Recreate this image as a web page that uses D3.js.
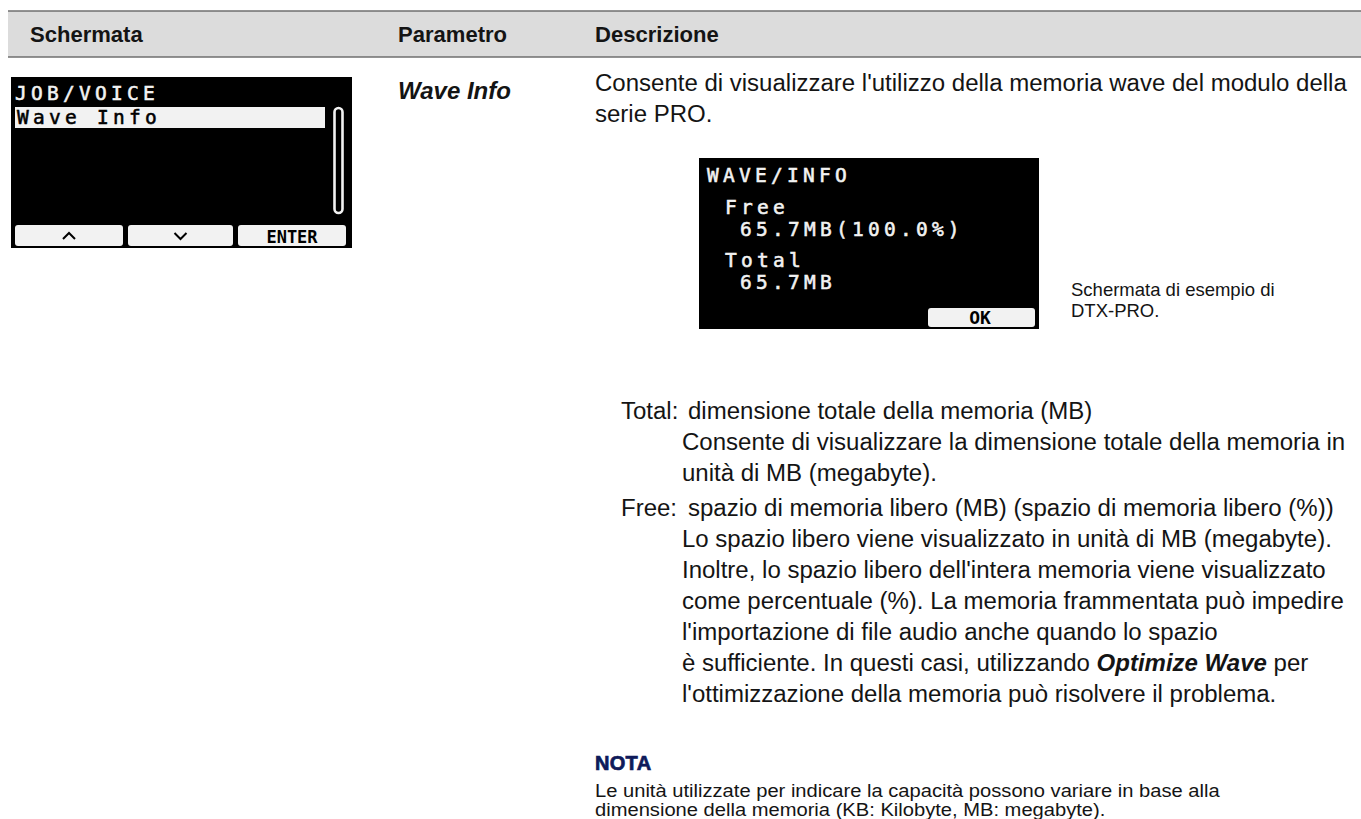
<!DOCTYPE html>
<html><head><meta charset="utf-8">
<script src="https://cdn.jsdelivr.net/npm/d3@7/dist/d3.min.js"></script>
<style>html,body{margin:0;padding:0;background:#fff;} svg{display:block}</style>
</head><body>
<svg id="c" width="1361" height="819"></svg>
<script>
// ---------- content ----------
const headers = ["Schermata", "Parametro", "Descrizione"];
const lcd1Title = "JOB/VOICE";
const lcd1Items = ["Wave Info"];
const lcd1Buttons = ["up", "down", "ENTER"];
const lcd2Lines = ["WAVE/INFO", "Free", "65.7MB(100.0%)", "Total", "65.7MB"];
const lcd2Levels = [0, 1, 2, 1, 2];
const lcd2Button = "OK";
const paramName = "Wave Info";
const introLines = [
  "Consente di visualizzare l'utilizzo della memoria wave del modulo della",
  "serie PRO."
];
const captionLines = ["Schermata di esempio di", "DTX-PRO."];
const totalLabel = "Total:";
const totalLines = [
  "dimensione totale della memoria (MB)",
  "Consente di visualizzare la dimensione totale della memoria in",
  "unità di MB (megabyte)."
];
const freeLabel = "Free:";
const freeLines = [
  "spazio di memoria libero (MB) (spazio di memoria libero (%))",
  "Lo spazio libero viene visualizzato in unità di MB (megabyte).",
  "Inoltre, lo spazio libero dell'intera memoria viene visualizzato",
  "come percentuale (%). La memoria frammentata può impedire",
  "l'importazione di file audio anche quando lo spazio",
  "è sufficiente. In questi casi, utilizzando *Optimize Wave* per",
  "l'ottimizzazione della memoria può risolvere il problema."
];
const noteTitle = "NOTA";
const noteLines = [
  "Le unità utilizzate per indicare la capacità possono variare in base alla",
  "dimensione della memoria (KB: Kilobyte, MB: megabyte)."
];

// ---------- layout ----------
const W = 1361, H = 819;
const svg = d3.select("#c");
const SANS = "'Liberation Sans', Arial, Helvetica, sans-serif";
const MONO = "'DejaVu Sans Mono', 'Liberation Mono', monospace";
const INK = "#141414";

const col = d3.scaleOrdinal().domain(headers).range([30, 398, 595]);

// header band
svg.append("rect").attr("x", 8).attr("y", 11).attr("width", W - 8).attr("height", 46).attr("fill", "#dcdcdc");
[11, 57].forEach(y => svg.append("line").attr("x1", 8).attr("x2", W).attr("y1", y).attr("y2", y)
  .attr("stroke", "#6f6f6f").attr("stroke-width", 1.5));

function addLine(g, x, y, str, size, k, opts = {}) {
  const t = g.append("text")
    .attr("transform", `translate(${x},${y}) scale(${k},1)`)
    .attr("font-family", SANS).attr("font-size", size)
    .attr("fill", opts.fill || INK)
    .attr("font-weight", opts.weight || null)
    .attr("font-style", opts.style || null);
  str.split("*").forEach((p, i) => {
    if (!p) return;
    const ts = t.append("tspan").text(p);
    if (i % 2 === 1) ts.attr("font-weight", "bold").attr("font-style", "italic");
  });
  return t;
}
function widthOf(str, size) {
  const p = svg.append("text").attr("font-family", SANS).attr("font-size", size).text(str);
  const w = p.node().getComputedTextLength();
  p.remove();
  return w;
}

const BODY = 24.5;
const kBody = 752 / widthOf(introLines[0], BODY);
const NOTE = 17.5;
const kNote = 625 / widthOf(noteLines[0], NOTE);

// header labels
const hg = svg.append("g");
headers.forEach(h => addLine(hg, col(h), 42, h, 22.5, kBody, {weight: "bold"}));

// parameter name
addLine(svg, col("Parametro"), 99, paramName, BODY, kBody, {weight: "bold", style: "italic"});

// description
const dg = svg.append("g");
const lineY = d3.scaleLinear().domain([0, 1]).range([0, 31]);
introLines.forEach((s, i) => addLine(dg, col("Descrizione"), 91 + lineY(i), s, BODY, kBody));

const LABEL_X = 621, INLINE_X = 688, INDENT_X = 682;
function defItem(label, lines, y0) {
  addLine(dg, LABEL_X, y0, label, BODY, kBody);
  lines.forEach((s, i) => addLine(dg, i === 0 ? INLINE_X : INDENT_X, y0 + lineY(i), s, BODY, kBody));
}
defItem(totalLabel, totalLines, 419);
defItem(freeLabel, freeLines, 516);

// caption
captionLines.forEach((s, i) => svg.append("text").attr("x", 1071).attr("y", 296 + i * 21)
  .attr("font-family", SANS).attr("font-size", 18.5).attr("fill", INK).text(s));

// note
svg.append("text").attr("x", 595).attr("y", 770).attr("font-family", SANS).attr("font-size", 20)
  .attr("font-weight", "bold").attr("fill", "#0e1a5a").attr("stroke", "#0e1a5a").attr("stroke-width", 0.7)
  .attr("letter-spacing", 0.3).text(noteTitle);
noteLines.forEach((s, i) => addLine(svg, 595, 797 + i * 19, s, NOTE, kNote));

// ---------- LCD screens ----------
const LCD_FG = "#f2f2f2";
function lcd(x0, y0, w, h) {
  const g = svg.append("g").attr("transform", `translate(${x0},${y0})`);
  g.append("rect").attr("width", w).attr("height", h).attr("fill", "#000");
  return g;
}
function lcdText(g, x, y, s, fill) {
  return g.append("text").attr("x", x).attr("y", y).attr("font-family", MONO)
    .attr("font-size", 19.5).attr("letter-spacing", 4.25).attr("fill", fill || LCD_FG)
    .attr("stroke", fill || LCD_FG).attr("stroke-width", 0.55)
    .text(s);
}
// left LCD
const L = lcd(11, 77, 341, 171);
lcdText(L, 4, 23, lcd1Title);
const itemY = d3.scaleLinear().domain([0, 1]).range([30, 51]);
lcd1Items.forEach((s, i) => {
  L.append("rect").attr("x", 4).attr("y", itemY(i)).attr("width", 310).attr("height", 21).attr("fill", LCD_FG);
  lcdText(L, 6, itemY(i) + 17, s, "#000");
});
L.append("rect").attr("x", 323.5).attr("y", 31).attr("width", 8).attr("height", 105).attr("rx", 4)
  .attr("fill", "none").attr("stroke", LCD_FG).attr("stroke-width", 2.6);
const btnX = d3.scaleOrdinal().domain(lcd1Buttons).range([[4, 108], [117, 105], [227, 108]]);
lcd1Buttons.forEach(b => {
  const [bx, bw] = btnX(b);
  L.append("rect").attr("x", bx).attr("y", 148).attr("width", bw).attr("height", 21).attr("rx", 3).attr("fill", LCD_FG);
  const cx = bx + bw / 2;
  if (b === "up") {
    L.append("path").attr("d", `M${cx - 6},162 L${cx},156 L${cx + 6},162`).attr("fill", "none").attr("stroke", "#000").attr("stroke-width", 2);
  } else if (b === "down") {
    L.append("path").attr("d", `M${cx - 6},156 L${cx},162 L${cx + 6},156`).attr("fill", "none").attr("stroke", "#000").attr("stroke-width", 2);
  } else {
    L.append("text").attr("x", cx).attr("y", 166).attr("text-anchor", "middle").attr("font-family", MONO)
      .attr("font-weight", "bold").attr("font-size", 17).attr("fill", "#000").text(b);
  }
});

// middle LCD
const M = lcd(699, 158, 340, 171);
const lvlX = d3.scaleOrdinal().domain([0, 1, 2]).range([8, 26, 41]);
const rowY = d3.scaleOrdinal().domain(d3.range(lcd2Lines.length)).range([24, 56, 78, 109, 131]);
lcd2Lines.forEach((s, i) => lcdText(M, lvlX(lcd2Levels[i]), rowY(i), s));
M.append("rect").attr("x", 229).attr("y", 150).attr("width", 107).attr("height", 19).attr("rx", 3).attr("fill", LCD_FG);
M.append("text").attr("x", 281).attr("y", 166).attr("text-anchor", "middle").attr("font-family", MONO)
  .attr("font-weight", "bold").attr("font-size", 18).attr("fill", "#000").text(lcd2Button);
</script>
</body></html>
